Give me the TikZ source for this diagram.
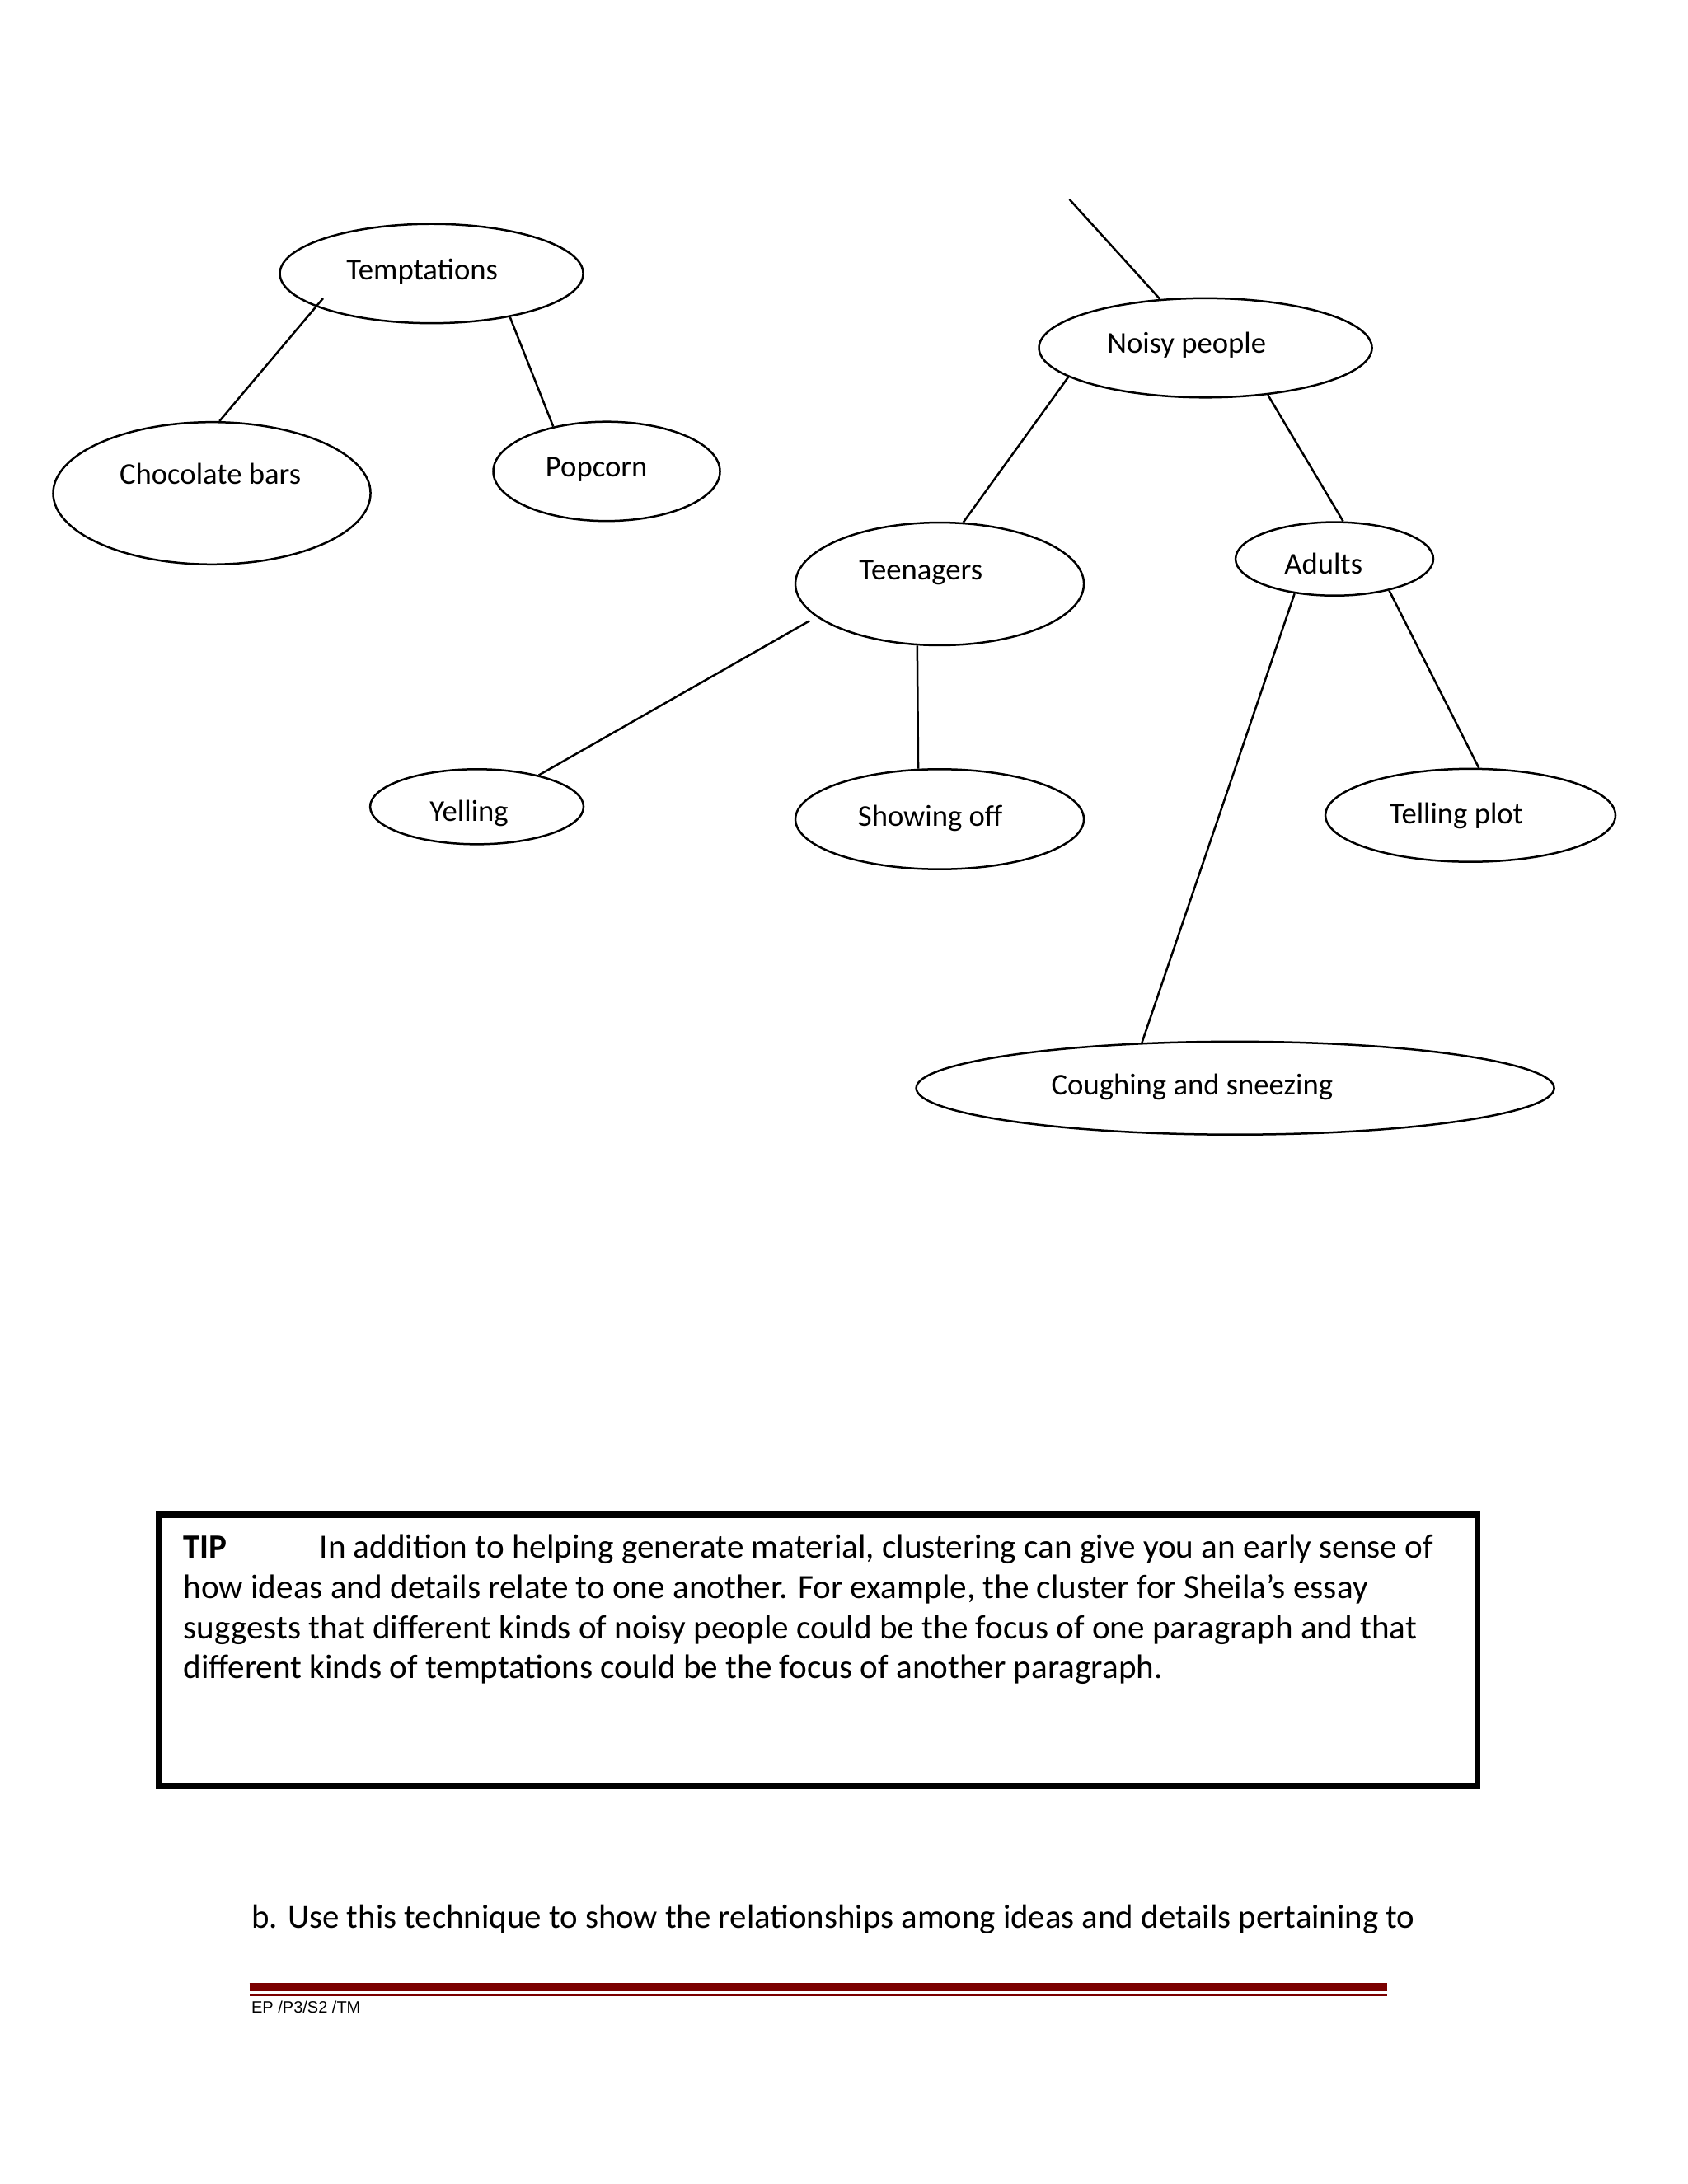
\documentclass[tikz,border=0pt]{standalone}
\usepackage{fontspec}
\setmainfont{Carlito}
\newfontfamily\footfont{Liberation Sans}
\usepackage{xcolor}
\definecolor{footerred}{RGB}{122, 0, 0}
\usetikzlibrary{shapes.geometric}

\begin{document}
\begin{tikzpicture}[
		bubble/.style={draw, ellipse, inner sep=0pt, line width=0.75pt},
		lbl/.style={font=\fontsize{11}{13}\selectfont, inner sep=0pt},
		link/.style={line width=0.75pt},
		tiptext/.style={font=\fontsize{12.35}{14.65}\selectfont, inner sep=0pt, align=left}
	]
		% page
		\fill[white] (0,0) rectangle (21.59,-27.94);
		
		% temptations cluster
		\node[bubble, minimum width=3.88cm, minimum height=1.27cm, label={[lbl, name=tempt-l, xshift=-0.12cm, yshift=0.025cm]center:Temptations}] (tempt) at (5.52,-3.50) {};
		\node[bubble, minimum width=4.06cm, minimum height=1.82cm, label={[lbl, name=choc-l, xshift=-0.02cm, yshift=0.25cm]center:Chocolate bars}] (choc) at (2.71,-6.31) {};
		\node[bubble, minimum width=2.90cm, minimum height=1.27cm, label={[lbl, name=popcorn-l, xshift=-0.13cm, yshift=0.025cm]center:Popcorn}] (popcorn) at (7.76,-6.03) {};
		
		%         % noisy people cluster
		\node[bubble, minimum width=4.26cm, minimum height=1.27cm, label={[lbl, name=noisy-l, xshift=-0.24cm, yshift=0.04cm]center:Noisy people}] (noisy) at (15.42,-4.45) {};
		\node[bubble, minimum width=3.69cm, minimum height=1.57cm, label={[lbl, name=teen-l, xshift=-0.24cm, yshift=0.145cm]center:Teenagers}] (teen) at (12.02,-7.47) {};
		\node[bubble, minimum width=2.53cm, minimum height=0.94cm, label={[lbl, name=adults-l, xshift=-0.14cm, yshift=-0.06cm]center:Adults}] (adults) at (17.07,-7.15) {};
		\node[bubble, minimum width=2.73cm, minimum height=0.96cm, label={[lbl, name=yell-l, xshift=-0.10cm, yshift=-0.085cm]center:Yelling}] (yell) at (6.10,-10.32) {};
		\node[bubble, minimum width=3.69cm, minimum height=1.28cm, label={[lbl, name=showoff-l, xshift=-0.12cm, yshift=0.015cm]center:Showing off}] (showoff) at (12.02,-10.48) {};
		\node[bubble, minimum width=3.71cm, minimum height=1.19cm, label={[lbl, name=telling-l, xshift=-0.18cm, yshift=-0.005cm]center:Telling plot}] (telling) at (18.81,-10.43) {};
		\node[bubble, minimum width=8.16cm, minimum height=1.19cm, label={[lbl, name=cough-l, xshift=-0.55cm, yshift=0.015cm]center:Coughing and sneezing}] (cough) at (15.80,-13.92) {};
		
		% loose end above noisy people
		\coordinate (top) at (13.68,-2.55);
		
		%         % connectors
		\draw[link, shorten <=-0.14cm] (tempt.196) -- (choc.84);
		\draw[link] (tempt.331) -- (popcorn.140);
		\draw[link] (top) -- (noisy.133);
		\draw[link] (noisy.192) -- (teen.69);
		\draw[link] (noisy.323) -- (adults.77);
		\draw[link, shorten <=0.1cm] (teen.195) -- (yell.27);
		\draw[link] (teen.250) -- (showoff.113);
		\draw[link] (adults.330) -- (telling.80);
		\draw[link] (adults.221) -- (cough.154);
		
		
		% tip box
		\draw[line width=2.2pt] (2.03,-19.38) rectangle (18.90,-22.85);
		\node[tiptext, anchor=base west] (tip) at (2.34,-21.475) {\makebox[1.74cm][l]{\textbf{TIP}}In addition to helping generate material, clustering can give you an early sense of\\
			how ideas and details relate to one another. For example, the cluster for Sheila’s essay\\
			suggests that different kinds of noisy people could be the focus of one paragraph and that\\
			different kinds of temptations could be the focus of another paragraph.};
		
		% task line
		\node[tiptext, font=\fontsize{12.25}{14.65}\selectfont, anchor=base west] (task) at (3.21,-24.67) {b. Use this technique to show the relationships among ideas and details pertaining to};
		
		%%%%%%%%%%%% footer
		\draw[footerred, line width=3pt] (3.19,-25.42) -- (17.74,-25.42);
		\draw[footerred, line width=0.9pt] (3.19,-25.52) -- (17.74,-25.52);
		\node[font=\footfont\fontsize{6}{7}\selectfont, inner sep=0pt, anchor=base west] (footer) at (3.21,-25.75) {EP /P3/S2 /TM};
	
	\end{tikzpicture}
\end{document}
